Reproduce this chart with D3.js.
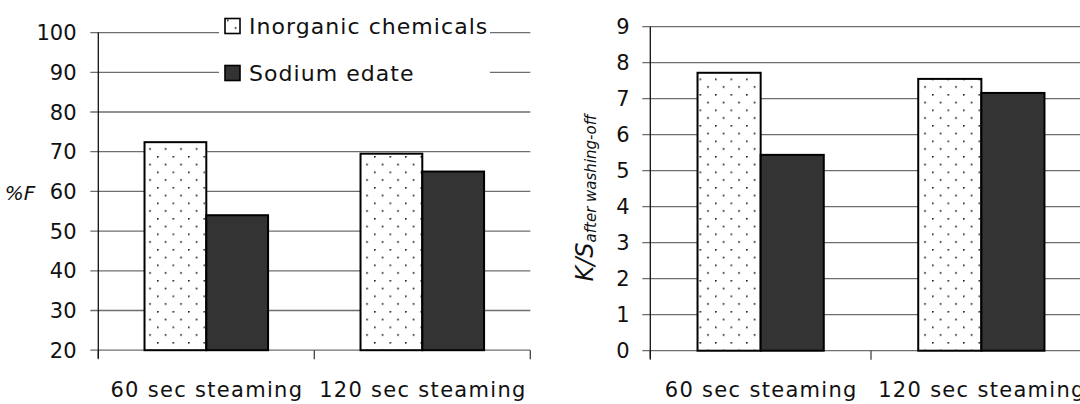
<!DOCTYPE html>
<html>
<head>
<meta charset="utf-8">
<script src="https://cdn.jsdelivr.net/npm/d3@7"></script>
<style>
  html, body { margin: 0; padding: 0; background: #fff; overflow: hidden; }
  svg { display: block; }
  text { font-family: "DejaVu Sans", sans-serif; fill: #111; }
</style>
</head>
<body>
<svg id="chart" width="1080" height="404"></svg>
<script>
// Data
const categories = ["60 sec steaming", "120 sec steaming"];
const seriesNames = ["Inorganic chemicals", "Sodium edate"];
const fixationPct = [72.4, 69.5];      // %F, inorganic chemicals
const fixationPctEdate = [54.0, 65.0]; // %F, sodium edate
const ksInorganic = [7.72, 7.55];      // K/S after washing-off, inorganic chemicals
const ksEdate = [5.44, 7.16];          // K/S after washing-off, sodium edate
const leftTicks = [20, 30, 40, 50, 60, 70, 80, 90, 100];
const rightTicks = [0, 1, 2, 3, 4, 5, 6, 7, 8, 9];

const svg = d3.select("#chart");
const fontSize = 21;

// dotted fill for the inorganic series
const defs = svg.append("defs");
const pat = defs.append("pattern")
  .attr("id", "dots").attr("patternUnits", "userSpaceOnUse")
  .attr("width", 15.5).attr("height", 15.5).attr("x", 2).attr("y", 1);
pat.append("rect").attr("width", 15.5).attr("height", 15.5).attr("fill", "#fff");
pat.append("circle").attr("cx", 0.8).attr("cy", 0.8).attr("r", 0.95).attr("fill", "#222");
pat.append("circle").attr("cx", 8.55).attr("cy", 8.55).attr("r", 0.95).attr("fill", "#222");

const fills = ["url(#dots)", "#333333"];

function drawPanel(opts) {
  const { x0, x1, yTop, yBottom, domain, ticks, values, labelX } = opts;
  const g = svg.append("g");
  const x = d3.scaleBand().domain(categories).range([x0, x1]);
  const y = d3.scaleLinear().domain(domain).range([yBottom, yTop]);
  const groupW = x.bandwidth() * 0.572;
  const xs = d3.scaleBand().domain(seriesNames)
    .range([(x.bandwidth() - groupW) / 2, (x.bandwidth() + groupW) / 2]);

  // horizontal gridlines with outer ticks
  g.append("g").selectAll("line").data(ticks).join("line")
    .attr("x1", x0 - 8).attr("x2", x1)
    .attr("y1", d => y(d)).attr("y2", d => y(d))
    .attr("stroke", "#6e6e6e").attr("stroke-width", 1.3);

  // category axis ticks
  g.append("g").selectAll("line").data(d3.range(categories.length + 1)).join("line")
    .attr("x1", i => x0 + i * x.step()).attr("x2", i => x0 + i * x.step())
    .attr("y1", yBottom).attr("y2", yBottom + 9)
    .attr("stroke", "#444").attr("stroke-width", 1.3);

  // value axis line
  g.append("line").attr("x1", x0).attr("x2", x0)
    .attr("y1", yTop).attr("y2", yBottom + 8)
    .attr("stroke", "#111").attr("stroke-width", 1.3);

  // tick labels
  g.append("g").selectAll("text").data(ticks).join("text")
    .attr("x", labelX).attr("y", d => y(d)).attr("dy", "0.36em")
    .attr("text-anchor", "end").style("font-size", fontSize + "px")
    .text(d => d);

  // bars
  const rows = categories.flatMap((c, i) =>
    seriesNames.map((s, j) => ({ c, s, j, v: values[j][i] })));
  g.append("g").selectAll("rect").data(rows).join("rect")
    .attr("x", d => x(d.c) + xs(d.s))
    .attr("y", d => y(d.v))
    .attr("width", xs.bandwidth())
    .attr("height", d => y(domain[0]) - y(d.v))
    .attr("fill", d => fills[d.j])
    .attr("stroke", "#000").attr("stroke-width", 2);

  // category labels
  g.append("g").selectAll("text").data(categories).join("text")
    .attr("x", d => x(d) + x.bandwidth() / 2 + 0.6).attr("y", 397)
    .attr("text-anchor", "middle").style("font-size", fontSize + "px")
    .style("letter-spacing", "1.3px")
    .text(d => d);
  return g;
}

drawPanel({
  x0: 98.3, x1: 530.3, yTop: 32.6, yBottom: 350.2,
  domain: [20, 100], ticks: leftTicks,
  values: [fixationPct, fixationPctEdate], labelX: 76.5
});

drawPanel({
  x0: 650.3, x1: 1091.7, yTop: 26.7, yBottom: 350.7,
  domain: [0, 9], ticks: rightTicks,
  values: [ksInorganic, ksEdate], labelX: 629.5
});

// y-axis titles
svg.append("text").attr("x", 20).attr("y", 193).attr("dy", "0.36em")
  .attr("text-anchor", "middle").style("font-size", "20px").style("font-style", "italic")
  .text("%F");

const ks = svg.append("text")
  .attr("transform", "translate(593,198) rotate(-90)")
  .attr("text-anchor", "middle").style("font-style", "italic");
ks.append("tspan").style("font-size", "24px").text("K/S");
ks.append("tspan").style("font-size", "15px").attr("dy", 3).text("after washing-off");

// legend
const legend = svg.append("g");
legend.append("rect").attr("x", 219).attr("y", 8).attr("width", 271).attr("height", 82).attr("fill", "#fff");
const lg = legend.selectAll("g").data(seriesNames).join("g")
  .attr("transform", (d, i) => `translate(225,${18.5 + i * 47})`);
lg.append("rect").attr("width", 15).attr("height", 15)
  .attr("fill", (d, i) => fills[i]).attr("stroke", "#000").attr("stroke-width", 1.6);
lg.append("text").attr("x", 24).attr("y", 15).style("font-size", "22px")
  .style("letter-spacing", "1.05px").text(d => d);
</script>
</body>
</html>
